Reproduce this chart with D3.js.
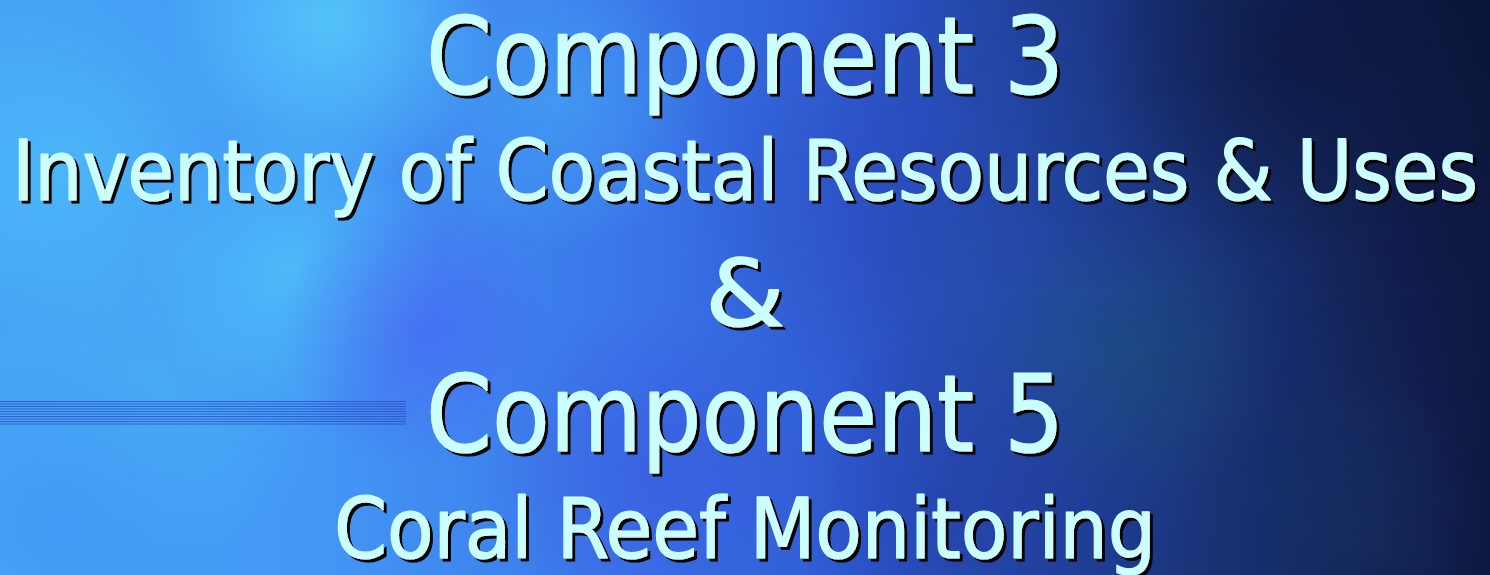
<!DOCTYPE html>
<html>
<head>
<meta charset="utf-8">
<script src="https://cdn.jsdelivr.net/npm/d3@7/dist/d3.min.js"></script>
<style>
html,body{margin:0;padding:0;background:#1a3a9a;overflow:hidden;}
svg{display:block;}
</style>
</head>
<body>
<svg id="slide" width="1490" height="575"></svg>
<script>
// ---- content ----
const titleLines = [
  "Component 3",
  "Inventory of Coastal Resources & Uses",
  "&",
  "Component 5",
  "Coral Reef Monitoring"
];
const lineRoles = ["heading", "sub", "amp", "heading", "sub"];
const stripeCount = 10;

// ---- layout ----
const W = 1490, H = 575;
const svg = d3.select("#slide");
const defs = svg.append("defs");

// base horizontal gradient
const lg = defs.append("linearGradient").attr("id","bg").attr("x1","0").attr("x2","1").attr("y1","0").attr("y2","0");
[[0,"#46a6f6"],[0.22,"#4396f4"],[0.42,"#3a76ea"],[0.58,"#2e58d0"],[0.72,"#22439e"],[0.86,"#172e6c"],[1,"#101a44"]]
  .forEach(([o,c]) => lg.append("stop").attr("offset",o).attr("stop-color",c));
const vg = defs.append("linearGradient").attr("id","vshade").attr("x1","0").attr("x2","0").attr("y1","0").attr("y2","1");
[[0,"#000820",0.35],[0.5,"#000820",0.0],[1,"#000820",0.12]]
  .forEach(([o,c,a]) => vg.append("stop").attr("offset",o).attr("stop-color",c).attr("stop-opacity",a));
const hmask = defs.append("linearGradient").attr("id","hm").attr("x1","0").attr("x2","1");
[[0,0],[0.55,0],[1,1]].forEach(([o,a]) => hmask.append("stop").attr("offset",o).attr("stop-color","#fff").attr("stop-opacity",a));
const mask = defs.append("mask").attr("id","rightMask");
mask.append("rect").attr("width",W).attr("height",H).attr("fill","url(#hm)");

// drop shadow for text
const sh = defs.append("filter").attr("id","shadow")
  .attr("filterUnits","userSpaceOnUse").attr("x",0).attr("y",-20).attr("width",W).attr("height",H+40);
sh.append("feOffset").attr("in","SourceAlpha").attr("dx",3).attr("dy",3).attr("result","off");
sh.append("feFlood").attr("flood-color","#000").attr("result","blk");
sh.append("feComposite").attr("in","blk").attr("in2","off").attr("operator","in").attr("result","shd");
const mg = sh.append("feMerge");
mg.append("feMergeNode").attr("in","shd");
mg.append("feMergeNode").attr("in","SourceGraphic");

svg.append("rect").attr("width",W).attr("height",H).attr("fill","url(#bg)");

// soft blobs (radial gradients)
const blobs = [
  {x:330,y:20,r:170,c:"#58d2fc",o:0.75},
  {x:70,y:170,r:170,c:"#50c8fa",o:0.5},
  {x:290,y:270,r:150,c:"#50ccfa",o:0.65},
  {x:160,y:390,r:170,c:"#4cbcf8",o:0.45},
  {x:560,y:100,r:150,c:"#48b8f8",o:0.45},
  {x:420,y:330,r:140,c:"#4a5cf2",o:0.55},
  {x:650,y:470,r:170,c:"#3a50d8",o:0.5},
  {x:880,y:200,r:190,c:"#2a48b8",o:0.45},
  {x:1000,y:300,r:180,c:"#254aa0",o:0.4},
  {x:1130,y:360,r:150,c:"#1e5a74",o:0.4},
  {x:960,y:500,r:170,c:"#22389a",o:0.4},
  {x:1330,y:520,r:160,c:"#1a3a70",o:0.4},
  {x:1290,y:60,r:200,c:"#0c1438",o:0.5},
  {x:1460,y:250,r:180,c:"#0e1840",o:0.5},
  {x:60,y:520,r:170,c:"#3f8cf0",o:0.45}
];
blobs.forEach((b,i) => {
  const rg = defs.append("radialGradient").attr("id","blob"+i);
  rg.append("stop").attr("offset",0).attr("stop-color",b.c).attr("stop-opacity",b.o);
  rg.append("stop").attr("offset",0.5).attr("stop-color",b.c).attr("stop-opacity",b.o*0.55);
  rg.append("stop").attr("offset",1).attr("stop-color",b.c).attr("stop-opacity",0);
});
svg.append("g").selectAll("circle").data(blobs).join("circle")
  .attr("cx",d=>d.x).attr("cy",d=>d.y).attr("r",d=>d.r)
  .attr("fill",(d,i)=>`url(#blob${i})`);

svg.append("rect").attr("width",W).attr("height",H).attr("fill","url(#vshade)").attr("mask","url(#rightMask)");

// stripes on the left
const sy = d3.scaleLinear().domain([0, stripeCount-1]).range([401.5, 424]);
svg.append("g").selectAll("line").data(d3.range(stripeCount)).join("line")
  .attr("x1",0).attr("x2",406)
  .attr("y1",d=>sy(d)).attr("y2",d=>sy(d))
  .attr("stroke","#2848c0").attr("stroke-opacity",0.75).attr("stroke-width",1);

// text
const sizes = {heading:107, sub:83, amp:92};
const baselines = [93, 200, 326, 451, 558];
const lengths = [638, 1466, 80, 638, 822];
const cx = 745;
svg.append("g")
  .attr("font-family","'DejaVu Sans Condensed','DejaVu Sans',Tahoma,sans-serif")
  .attr("filter","url(#shadow)")
  .selectAll("text").data(titleLines).join("text")
  .attr("x",cx).attr("y",(d,i)=>baselines[i])
  .attr("text-anchor","middle")
  .attr("font-size",(d,i)=>sizes[lineRoles[i]])
  .attr("textLength",(d,i)=>lengths[i])
  .attr("lengthAdjust","spacingAndGlyphs")
  .attr("fill","#ccffff")
  .attr("stroke","#ccffff").attr("stroke-width",1.2).attr("stroke-linejoin","round")
  .text(d=>d);
</script>
</body>
</html>
